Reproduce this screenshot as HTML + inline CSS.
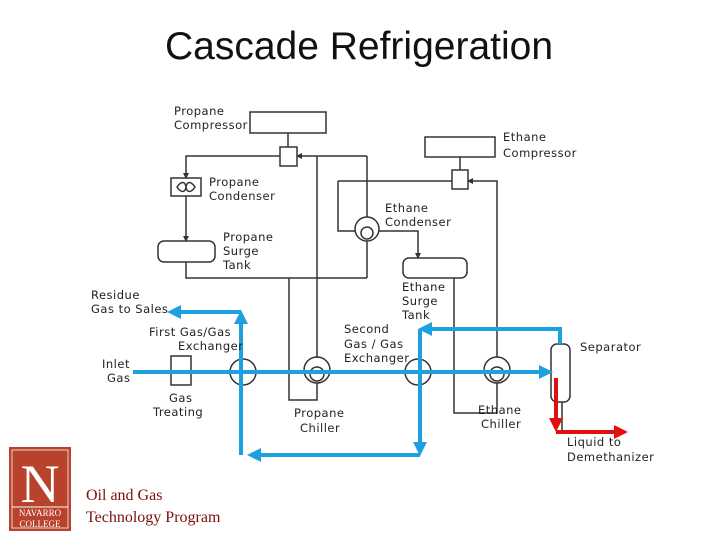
<!DOCTYPE html>
<html><head><meta charset="utf-8"><style>
body{margin:0;background:#fff}
svg{display:block}
.t{font-family:"DejaVu Sans",sans-serif;font-size:11.5px;fill:#222;letter-spacing:0.5px}
</style></head><body>
<svg width="720" height="540" viewBox="0 0 720 540" xmlns="http://www.w3.org/2000/svg">
<defs>
<marker id="ab" markerWidth="3.5" markerHeight="3.5" refX="1.5" refY="1.75" orient="auto" markerUnits="strokeWidth"><path d="M0,0 L3.5,1.75 L0,3.5 Z" fill="#1ea0e0"/></marker>
<marker id="ar" markerWidth="3.5" markerHeight="3.5" refX="1.5" refY="1.75" orient="auto" markerUnits="strokeWidth"><path d="M0,0 L3.5,1.75 L0,3.5 Z" fill="#e01010"/></marker>
<marker id="ak" markerWidth="6" markerHeight="6" refX="5" refY="3" orient="auto" markerUnits="userSpaceOnUse"><path d="M0,0 L6,3 L0,6 Z" fill="#333"/></marker>
</defs>
<text x="359" y="59" text-anchor="middle" font-family="Liberation Sans,sans-serif" font-size="39" fill="#111">Cascade Refrigeration</text>

<g stroke="#333" stroke-width="1.5" fill="none">
<rect x="250" y="112" width="76" height="21"/>
<line x1="288" y1="133" x2="288" y2="147"/>
<rect x="280" y="147" width="17" height="19"/>
<path d="M280,156 H186 V178" marker-end="url(#ak)"/>
<rect x="171" y="178" width="30" height="18"/>
<path d="M177,187 c4,-6 8,-6 9,0 c1,6 5,6 9,0 c-4,-6 -8,-6 -9,0 c-1,6 -5,6 -9,0z"/>
<path d="M186,196 V241" marker-end="url(#ak)"/>
<rect x="158" y="241" width="57" height="21" rx="6"/>
<path d="M186,262 V278 H367"/>
<path d="M367,156 H297" marker-end="url(#ak)"/>
<path d="M317,358 V156"/>
<path d="M367,278 V241"/>
<path d="M367,217 V156"/>
<circle cx="367" cy="229" r="12"/>
<circle cx="367" cy="233" r="6"/>
<path d="M338,181 H452" />
<path d="M338,181 V231 H355"/>
<path d="M379,231 H418 V258" marker-end="url(#ak)"/>
<rect x="425" y="137" width="70" height="20"/>
<line x1="460" y1="157" x2="460" y2="170"/>
<rect x="452" y="170" width="16" height="19"/>
<path d="M497,357 V181 H468" marker-end="url(#ak)"/>
<rect x="403" y="258" width="64" height="20" rx="6"/>
<path d="M454,278 V413 H497 V383"/>
<circle cx="497" cy="370" r="13"/>
<circle cx="497" cy="374" r="7"/>
<path d="M289,278 V400 H317 V383"/>
<circle cx="317" cy="370" r="13"/>
<circle cx="317" cy="374" r="7"/>
<circle cx="243" cy="372" r="13"/>
<circle cx="418" cy="372" r="13"/>
<rect x="171" y="356" width="20" height="29"/>
<rect x="551" y="344" width="19" height="58" rx="6"/>
<path d="M562,402 V432 H605"/>
</g>

<g stroke="#1ea0e0" stroke-width="4" fill="none">
<path d="M133,372 H545" marker-end="url(#ab)"/>
<path d="M560,344 V329 H426" marker-end="url(#ab)"/>
<path d="M420,329 V448" marker-end="url(#ab)"/>
<path d="M420,455 H255" marker-end="url(#ab)"/>
<path d="M241,455 V318" marker-end="url(#ab)"/>
<path d="M241,312 H175" marker-end="url(#ab)"/>
</g>
<g stroke="#e01010" stroke-width="4" fill="none">
<path d="M556,378 V424" marker-end="url(#ar)"/>
<path d="M556,432 H620" marker-end="url(#ar)"/>
</g>

<g class="t">
<text x="174" y="115">Propane</text><text x="174" y="129">Compressor</text>
<text x="209" y="186">Propane</text><text x="209" y="200">Condenser</text>
<text x="223" y="241">Propane</text><text x="223" y="255">Surge</text><text x="223" y="269">Tank</text>
<text x="503" y="141">Ethane</text><text x="503" y="157">Compressor</text>
<text x="385" y="212">Ethane</text><text x="385" y="226">Condenser</text>
<text x="402" y="291">Ethane</text><text x="402" y="305">Surge</text><text x="402" y="319">Tank</text>
<text x="91" y="299">Residue</text><text x="91" y="313">Gas to Sales</text>
<text x="149" y="336">First Gas/Gas</text><text x="178" y="350">Exchanger</text>
<text x="102" y="368">Inlet</text><text x="107" y="382">Gas</text>
<text x="169" y="402">Gas</text><text x="153" y="416">Treating</text>
<text x="294" y="417">Propane</text><text x="300" y="432">Chiller</text>
<text x="344" y="333">Second</text><text x="344" y="348">Gas / Gas</text><text x="344" y="362">Exchanger</text>
<text x="478" y="414">Ethane</text><text x="481" y="428">Chiller</text>
<text x="580" y="351">Separator</text>
<text x="567" y="446">Liquid to</text><text x="567" y="461">Demethanizer</text>
</g>

<rect x="9" y="447" width="62" height="84" fill="#b8422c"/>
<rect x="12" y="450" width="56" height="78" fill="none" stroke="#f0d0c8" stroke-width="1"/>
<text x="40" y="502" text-anchor="middle" font-family="Liberation Serif,serif" font-size="54" fill="#fff">N</text>
<line x1="12" y1="507" x2="68" y2="507" stroke="#fff" stroke-width="1"/>
<text x="40" y="516" text-anchor="middle" font-family="Liberation Serif,serif" font-size="9" fill="#fff">NAVARRO</text>
<text x="40" y="527" text-anchor="middle" font-family="Liberation Serif,serif" font-size="9" fill="#fff">COLLEGE</text>
<text x="86" y="500" font-family="Liberation Serif,serif" font-size="16" fill="#7a1010">Oil and Gas</text>
<text x="86" y="522" font-family="Liberation Serif,serif" font-size="16" fill="#7a1010">Technology Program</text>
</svg>
</body></html>
